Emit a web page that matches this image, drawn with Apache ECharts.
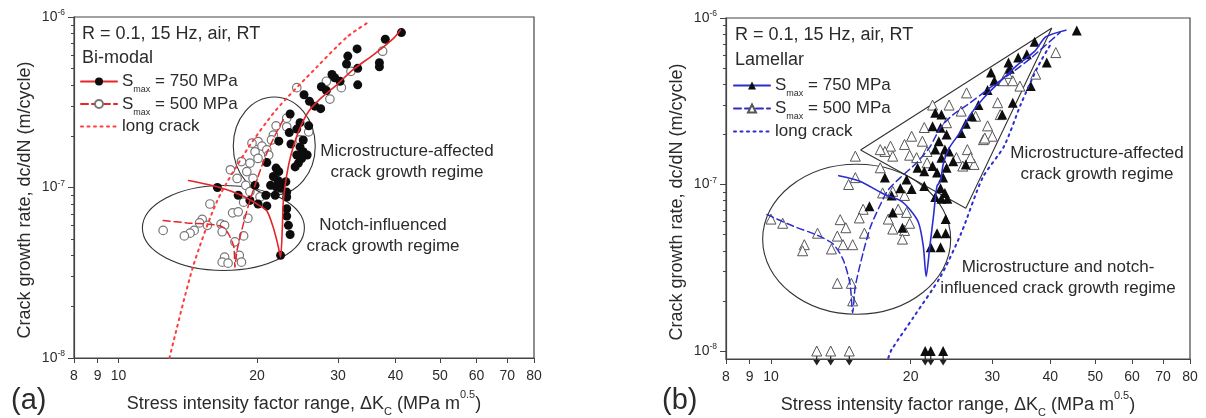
<!DOCTYPE html>
<html>
<head>
<meta charset="utf-8">
<script src="https://cdn.jsdelivr.net/npm/echarts@6/dist/echarts.min.js"></script>
<style>
  html, body { margin: 0; padding: 0; background: #fff; }
  #chart { width: 1206px; height: 418px; }
</style>
</head>
<body>
<div id="chart"></div>
<script>
// ---- data: [dK (MPa m^0.5), dc/dN (m/cycle)] ----
const xTicks = [8, 9, 10, 20, 30, 40, 50, 60, 70, 80];
const yMajor = [1e-8, 1e-7, 1e-6];
const yMinor = [2e-8, 3e-8, 4e-8, 5e-8, 6e-8, 7e-8, 8e-8, 9e-8, 2e-7, 3e-7, 4e-7, 5e-7, 6e-7, 7e-7, 8e-7, 9e-7];

// (a) Bi-modal
const biFilled = [
  [41.2, 8.1e-7], [38, 7.4e-7], [33, 6.5e-7], [31.5, 5.9e-7], [31.3, 5.3e-7], [33.1, 5.0e-7],
  [36.9, 5.4e-7], [36.9, 5.1e-7], [29.1, 4.6e-7], [29.5, 4.4e-7], [30.3, 4.2e-7], [33.1, 4.0e-7],
  [27.6, 3.9e-7], [28.3, 3.7e-7], [25.3, 3.5e-7], [26, 3.2e-7], [26.7, 3.0e-7], [27.5, 2.9e-7],
  [23.6, 2.7e-7], [24.8, 2.4e-7], [25.9, 2.3e-7], [24.4, 2.2e-7], [23.5, 2.1e-7], [25.2, 1.9e-7],
  [24.8, 1.73e-7], [25.2, 1.62e-7], [24.4, 1.55e-7], [25, 1.48e-7], [24.6, 1.39e-7], [24.2, 1.32e-7],
  [25.7, 1.55e-7], [22.3, 1.87e-7], [23.7, 1.8e-7], [21, 1.4e-7], [22, 1.3e-7], [22.3, 1.24e-7],
  [21.7, 1.16e-7], [22.2, 1.1e-7], [22.7, 1.06e-7], [22, 1.01e-7], [21.4, 1.03e-7], [22.5, 9.9e-8],
  [19.8, 1.03e-7], [20.9, 9.0e-8], [16.4, 1.0e-7], [18.2, 9.0e-8], [19.3, 8.4e-8], [20.1, 8.0e-8],
  [21, 7.8e-8], [21.9, 9.0e-8], [23.2, 8.8e-8], [23.2, 9.4e-8], [23.1, 1.08e-7], [23.2, 7.5e-8],
  [23.2, 6.8e-8], [23.4, 6.0e-8], [23.6, 5.3e-8], [22.5, 4.0e-8]
];
const biOpen = [
  [37.5, 6.3e-7], [32, 4.8e-7], [28.8, 3.3e-7], [28.3, 4.2e-7], [30.5, 3.85e-7], [24.4, 3.85e-7],
  [23.2, 2.55e-7], [22, 2.3e-7], [23.2, 2.27e-7], [25.9, 2.12e-7], [24.8, 1.9e-7], [21.7, 2.03e-7],
  [21.5, 1.9e-7], [20.1, 1.86e-7], [19.5, 1.82e-7], [20.5, 1.75e-7], [19.8, 1.62e-7], [21, 1.66e-7],
  [18.5, 1.42e-7], [19.3, 1.39e-7], [21.2, 1.55e-7], [20.1, 1.48e-7], [17.5, 1.27e-7], [19, 1.24e-7],
  [18.1, 1.13e-7], [19.6, 1.13e-7], [18.9, 1.03e-7], [19.3, 9.45e-8], [20.3, 8.8e-8], [18.7, 8.2e-8],
  [15.8, 8.0e-8], [17.7, 7.1e-8], [18.2, 7.2e-8], [19.1, 6.6e-8], [15.2, 6.5e-8], [15, 6.2e-8],
  [15.6, 6.0e-8], [16.7, 6.1e-8], [17, 6.0e-8], [14.6, 5.6e-8], [16.8, 5.5e-8], [14.3, 5.4e-8],
  [13.9, 5.2e-8], [12.5, 5.6e-8], [18.7, 5.2e-8], [17.9, 4.8e-8], [18.3, 4.0e-8], [17, 3.9e-8],
  [16.8, 3.65e-8], [17.3, 3.6e-8], [18.5, 3.65e-8]
];
const biFit750 = [
  [14.2, 1.1e-7], [16.4, 1.01e-7], [18.5, 9.0e-8], [20, 8.0e-8], [21, 7.3e-8], [21.7, 5.8e-8],
  [22.2, 4.6e-8], [22.5, 3.9e-8], [22.7, 5.8e-8], [22.8, 8.2e-8], [23.2, 1.18e-7], [23.7, 1.55e-7],
  [24.6, 2.12e-7], [25.9, 2.8e-7], [27.5, 3.33e-7], [29.8, 4.0e-7], [32.3, 4.9e-7], [35.8, 6.0e-7],
  [39.6, 7.5e-7], [41, 8.4e-7]
];
const biFit500 = [
  [12.5, 6.4e-8], [14.1, 6.2e-8], [15.6, 6.1e-8], [16.8, 5.9e-8], [17.3, 5.4e-8], [17.8, 4.5e-8],
  [17.9, 3.4e-8], [18.1, 4.3e-8], [18.7, 6.2e-8], [19.3, 8.4e-8], [20.1, 1.16e-7], [21, 1.59e-7],
  [22, 2.08e-7], [22.9, 2.55e-7]
];
const biLong = [
  [12.9, 1.0e-8], [14.5, 3.4e-8], [16.4, 8.4e-8], [19, 1.66e-7], [22, 2.85e-7], [27, 5.1e-7],
  [31.5, 7.7e-7], [35.1, 9.4e-7]
];

// (b) Lamellar
const lamFilled = [
  [45.6, 8.4e-7], [37, 7.2e-7], [35.6, 6.05e-7], [34.1, 5.8e-7], [39.3, 5.4e-7], [32.5, 5.4e-7],
  [29.8, 4.7e-7], [32.7, 4.95e-7], [30.3, 4.2e-7], [36.3, 3.9e-7], [29.3, 3.7e-7], [33.2, 3.1e-7],
  [28, 3.0e-7], [31.5, 2.63e-7], [27.1, 2.57e-7], [26.3, 2.32e-7], [26.3, 1.32e-7], [25.7, 2.04e-7],
  [22.6, 2.7e-7], [23.3, 2.63e-7], [22.3, 2.24e-7], [23.2, 2.19e-7], [23.9, 2.0e-7], [23, 1.82e-7],
  [23.7, 1.62e-7], [22.6, 1.62e-7], [24.2, 1.58e-7], [23.3, 1.45e-7], [24.7, 1.38e-7], [23.9, 1.26e-7],
  [22.3, 1.29e-7], [22.8, 1.18e-7], [21.4, 1.2e-7], [20.7, 1.26e-7], [23.5, 1.1e-7], [21.4, 9.8e-8],
  [23.2, 9.5e-8], [23.7, 8.9e-8], [22.6, 8.4e-8], [23.3, 8.2e-8], [24, 8.2e-8], [19.6, 1.07e-7],
  [20.1, 9.4e-8], [19, 9.5e-8], [17.6, 1.1e-7], [18.2, 8.6e-8], [16.3, 7.4e-8], [18.3, 6.8e-8],
  [19.2, 5.5e-8], [23.8, 6.2e-8], [22.8, 5.1e-8], [23.8, 5.1e-8], [22.1, 4.2e-8], [23.2, 4.2e-8]
];
const lamOpen = [
  [41.1, 6.2e-7], [37.2, 4.6e-7], [31.7, 4.2e-7], [33.2, 4.2e-7], [34.4, 3.9e-7], [30.8, 3.1e-7],
  [26.4, 3.55e-7], [31.2, 2.63e-7], [27.6, 2.57e-7], [29.3, 2.25e-7], [28.7, 1.86e-7], [30, 1.95e-7],
  [26.5, 1.62e-7], [27.4, 1.32e-7], [24.2, 3.0e-7], [22.3, 3.0e-7], [25.7, 2.76e-7], [23.9, 2.35e-7],
  [21.4, 2.2e-7], [20.1, 1.95e-7], [21.2, 1.82e-7], [19.4, 1.74e-7], [18.1, 1.7e-7], [17.6, 1.58e-7],
  [17.2, 1.62e-7], [18.3, 1.48e-7], [19.9, 1.5e-7], [21.7, 1.58e-7], [28.9, 1.9e-7], [26.9, 1.45e-7],
  [25.1, 1.45e-7], [25.9, 1.29e-7], [20.6, 1.45e-7], [21.7, 1.35e-7], [15.2, 1.48e-7], [17.2, 1.26e-7],
  [15.2, 1.1e-7], [14.7, 1.0e-7], [17.4, 8.9e-8], [18.3, 9.1e-8], [19.4, 8.6e-8], [15.8, 7.1e-8],
  [18.8, 7.1e-8], [19.6, 6.8e-8], [17.9, 6.2e-8], [19.4, 5.3e-8], [19.9, 5.85e-8], [15.9, 5.1e-8],
  [15.5, 6.3e-8], [14.1, 6.15e-8], [14.5, 5.5e-8], [13.9, 4.9e-8], [12.6, 5.1e-8], [10.6, 5.85e-8],
  [10, 6.2e-8], [11.8, 4.35e-8], [11.7, 4.0e-8], [13.5, 4.1e-8], [14.3, 4.35e-8], [15, 4.35e-8],
  [13.9, 2.55e-8], [14.9, 2.55e-8], [15, 2.0e-8], [32.3, 4.65e-7], [19.2, 4.7e-8], [18.3, 5.4e-8]
];
const lamFit750 = [
  [14, 1.13e-7], [15.5, 1.05e-7], [17.6, 8.7e-8], [19, 8.0e-8], [19.9, 7.1e-8], [20.8, 5.9e-8],
  [21.3, 4.25e-8], [21.6, 2.8e-8], [22, 4.25e-8], [22.4, 6.45e-8], [22.8, 9.8e-8], [23.2, 1.05e-7],
  [23.5, 1.32e-7], [24.2, 1.65e-7], [25.7, 2.1e-7], [26.9, 2.63e-7], [28.7, 3.3e-7], [31.2, 4.17e-7],
  [33.9, 5.2e-7], [37, 6.3e-7], [39.1, 7.7e-7], [43.2, 8.45e-7]
];
const lamFit500 = [
  [9.8, 6.6e-8], [11.2, 5.6e-8], [12.5, 5.0e-8], [13.6, 4.4e-8], [14.3, 3.55e-8], [14.8, 2.55e-8],
  [15, 1.7e-8], [15.2, 2.45e-8], [15.8, 3.9e-8], [16.4, 5.6e-8], [17.3, 7.8e-8], [17.9, 9.3e-8],
  [19, 1.1e-7], [20.6, 1.35e-7], [22, 1.68e-7], [23.2, 2.2e-7], [24.7, 2.63e-7], [26.9, 3.1e-7],
  [29.6, 3.8e-7], [32.7, 4.6e-7], [36.2, 5.7e-7], [42, 8.2e-7]
];
const lamLong = [
  [17.9, 9.1e-9], [18.2, 1.02e-8], [20.3, 1.6e-8], [23.2, 2.8e-8], [25.7, 5.1e-8], [28.6, 1.1e-7],
  [31.8, 1.7e-7], [34.5, 3.0e-7], [37.6, 5.1e-7], [40, 6.9e-7]
];
// run-outs drawn at the 1e-8 line with arrows
const lamRunoutFilled = [[21.5, 1e-8], [22.1, 1e-8], [23.5, 1e-8]];
const lamRunoutOpen = [[12.55, 1e-8], [13.45, 1e-8], [14.75, 1e-8]];

// annotation shapes
const lamRegion = [[15.6, 1.61e-7], [40.3, 8.7e-7], [26.3, 7.2e-8], [15.6, 1.61e-7]];

const FONT = '"Liberation Sans", Arial, sans-serif';
const TXT = '#2b2b2b';
const RED = '#e3262b';
const BLUE = '#2c2ccf';
const lg = Math.log10;
const toLog = pts => pts.map(p => [lg(p[0]), lg(p[1])]);

const chart = echarts.init(document.getElementById('chart'));

const xName = '{t|Stress intensity factor range, \u0394K}{sub|C}{t| (MPa m}{sup|0.5}{t|)}';
const nameRich = {
  t: { fontSize: 18, fontFamily: FONT, color: TXT, lineHeight: 30 },
  sub: { fontSize: 11, fontFamily: FONT, color: TXT, lineHeight: 30, verticalAlign: 'bottom', padding: [0, 0, 2, 0] },
  sup: { fontSize: 11, fontFamily: FONT, color: TXT, lineHeight: 30, verticalAlign: 'top' }
};

function xAxisFor(i) {
  return {
    type: 'value', gridIndex: i, min: lg(8), max: lg(80),
    axisLine: { lineStyle: { color: '#444', width: 1.2 } },
    axisTick: { customValues: xTicks.map(lg), length: 5, lineStyle: { color: '#444' } },
    axisLabel: {
      customValues: xTicks.map(lg), margin: 11, color: TXT, fontSize: 14, fontFamily: FONT,
      formatter: v => String(Math.round(Math.pow(10, v)))
    },
    splitLine: { show: false },
    name: xName, nameLocation: 'middle', nameGap: 31,
    nameTextStyle: { rich: nameRich }
  };
}
function yAxesFor(i, minLog) {
  return [{
    type: 'value', gridIndex: i, position: 'left', min: minLog, max: -6,
    axisLine: { lineStyle: { color: '#444', width: 1.2 } },
    axisTick: { customValues: yMajor.map(lg), length: 6, lineStyle: { color: '#444' } },
    axisLabel: {
      customValues: yMajor.map(lg), margin: 9,
      formatter: v => '{b|10}{s|' + Math.round(v) + '}',
      rich: {
        b: { fontSize: 14, fontFamily: FONT, color: TXT, lineHeight: 17 },
        s: { fontSize: 8.5, fontFamily: FONT, color: TXT, lineHeight: 17, verticalAlign: 'top' }
      }
    },
    splitLine: { show: false }
  }, {
    type: 'value', gridIndex: i, position: 'left', min: minLog, max: -6,
    axisLine: { show: false },
    axisTick: { customValues: yMinor.map(lg), length: 3, lineStyle: { color: '#444' } },
    axisLabel: { show: false },
    splitLine: { show: false }
  }];
}

const legendRich = {
  s: { fontSize: 17, fontFamily: FONT, color: TXT, lineHeight: 26 },
  m: { fontSize: 9, fontFamily: FONT, color: TXT, lineHeight: 26, verticalAlign: 'bottom' },
  t: { fontSize: 17, fontFamily: FONT, color: TXT, lineHeight: 26 }
};
function legendText(name) {
  if (name.indexOf('750') >= 0) return '{s|S}{m|max}{t| = 750 MPa}';
  if (name.indexOf('500') >= 0) return '{s|S}{m|max}{t| = 500 MPa}';
  return '{t|long crack}';
}
function legendFor(left, top, gap, names) {
  return {
    orient: 'vertical', left: left, top: top, padding: 0, itemGap: gap,
    itemWidth: 36, itemHeight: 10, selectedMode: false,
    data: names, formatter: legendText,
    textStyle: { rich: legendRich, padding: [0, 0, 0, 0] }
  };
}

const openCircle = { color: '#fff', borderColor: '#777', borderWidth: 1.2, opacity: 1 };
const openTri = { color: '#fff', borderColor: '#555', borderWidth: 1, opacity: 1 };
const hidden = { color: 'rgba(0,0,0,0)' };
const arrowPath = 'path://M4.4,0 H5.6 V10 H8.5 L5,16 L1.5,10 H4.4 Z';

function scatter(ax, data, symbol, size, style) {
  return {
    type: 'scatter', xAxisIndex: ax, yAxisIndex: ax * 2, data: toLog(data),
    symbol: symbol, symbolSize: size, itemStyle: style, z: 3, silent: true
  };
}
function fit(ax, name, data, color, type, width, symbol, symStyle) {
  return {
    type: 'line', name: name, xAxisIndex: ax, yAxisIndex: ax * 2, data: toLog(data),
    symbol: symbol, symbolSize: 8, showSymbol: false, smooth: 0.25,
    itemStyle: symStyle,
    lineStyle: { color: color, width: width, type: type, cap: 'round' },
    z: 4, silent: true
  };
}

const option = {
  animation: false,
  grid: [
    { left: 74, top: 17, width: 460, height: 341, outerBoundsMode: 'none', containLabel: false,
      show: true, borderColor: '#444', borderWidth: 1.2 },
    { left: 726, top: 18, width: 464, height: 341, outerBoundsMode: 'none', containLabel: false,
      show: true, borderColor: '#444', borderWidth: 1.2 }
  ],
  xAxis: [xAxisFor(0), xAxisFor(1)],
  yAxis: [].concat(yAxesFor(0, -8), yAxesFor(1, -8.048)),
  legend: [
    legendFor(80, 73, 1, ['bi750', 'bi500', 'biLong']),
    legendFor(733, 77, 1.5, ['lam750', 'lam500', 'lamLong'])
  ],
  series: [
    scatter(0, biOpen, 'circle', 8.5, openCircle),
    scatter(0, biFilled, 'circle', 9, { color: '#0d0d0d', opacity: 1 }),
    fit(0, 'bi750', biFit750, RED, 'solid', 1.6, 'circle', { color: '#0d0d0d' }),
    fit(0, 'bi500', biFit500, RED, [7, 4], 1.5, 'circle', openCircle),
    fit(0, 'biLong', biLong, '#ff3b3b', [2, 4.5], 2, 'circle', hidden),

    {
      type: 'scatter', xAxisIndex: 1, yAxisIndex: 2, silent: true, z: 2,
      data: toLog(lamRunoutFilled.concat(lamRunoutOpen)),
      symbol: arrowPath, symbolSize: [7, 15], symbolOffset: [0, 7], itemStyle: { color: '#222', opacity: 1 }
    },
    scatter(1, lamOpen.concat(lamRunoutOpen), 'triangle', 10, openTri),
    scatter(1, lamFilled.concat(lamRunoutFilled), 'triangle', 10, { color: '#0d0d0d', opacity: 1 }),
    fit(1, 'lam750', lamFit750, BLUE, 'solid', 1.6, 'triangle', { color: '#0d0d0d' }),
    fit(1, 'lam500', lamFit500, BLUE, [7, 4], 1.5, 'triangle', openTri),
    fit(1, 'lamLong', lamLong, BLUE, [2, 4.5], 2, 'circle', hidden),
    {
      type: 'line', xAxisIndex: 1, yAxisIndex: 2, data: toLog(lamRegion), symbol: 'none',
      lineStyle: { color: '#333', width: 1.1 }, z: 1, silent: true
    }
  ]
};
chart.setOption(option);

// annotations (positions follow the axes)
function px(ax, x, y) {
  return chart.convertToPixel({ xAxisIndex: ax, yAxisIndex: ax * 2 }, [lg(x), lg(y)]);
}
function ellipse(ax, x, y, rx, ry) {
  const c = px(ax, x, y);
  return { type: 'ellipse', z: 1, silent: true, shape: { cx: c[0], cy: c[1], rx: rx, ry: ry },
    style: { fill: null, stroke: '#333', lineWidth: 1.1 } };
}
function text(x, y, str, size, align, extra) {
  return Object.assign({ type: 'text', x: x, y: y, silent: true, z: 10,
    style: { text: str, fontSize: size, fontFamily: FONT, fill: TXT,
      align: align || 'left', verticalAlign: 'middle', lineHeight: 20.5 } }, extra || {});
}

chart.setOption({
  graphic: [
    ellipse(0, 21.8, 1.75e-7, 41, 49),
    ellipse(0, 16.9, 5.79e-8, 81, 42.5),
    ellipse(1, 15.3, 4.69e-8, 94, 75),
    text(82, 34, 'R = 0.1, 15 Hz, air, RT', 18),
    text(82, 58, 'Bi-modal', 18),
    text(735, 35, 'R = 0.1, 15 Hz, air, RT', 18),
    text(735, 60, 'Lamellar', 18),
    text(407, 162, 'Microstructure-affected\ncrack growth regime', 17, 'center'),
    text(383, 236, 'Notch-influenced\ncrack growth regime', 17, 'center'),
    text(1097, 164, 'Microstructure-affected\ncrack growth regime', 17, 'center'),
    text(1058, 278, 'Microstructure and notch-\ninfluenced crack growth regime', 17, 'center'),
    text(25, 200, 'Crack growth rate, dc/dN (m/cycle)', 18, 'center', { rotation: Math.PI / 2 }),
    text(677, 202, 'Crack growth rate, dc/dN (m/cycle)', 18, 'center', { rotation: Math.PI / 2 }),
    text(11, 401, '(a)', 29),
    text(662, 401, '(b)', 29)
  ]
});
</script>
</body>
</html>
